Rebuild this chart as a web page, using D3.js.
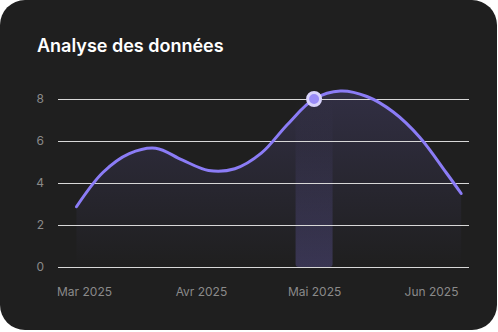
<!DOCTYPE html>
<html>
<head>
<meta charset="utf-8">
<script src="https://cdn.jsdelivr.net/npm/d3@7"></script>
<style>
  html, body { margin: 0; padding: 0; background: #ffffff; }
  svg { display: block; }
</style>
</head>
<body>
<svg id="chart" width="498" height="332"></svg>
<script>
// ---- data ----
const title = "Analyse des données";
const dates = ["2025-02-27","2025-03-06","2025-03-13","2025-03-20","2025-03-27","2025-04-03",
               "2025-04-10","2025-04-17","2025-04-24","2025-05-01","2025-05-08","2025-05-15",
               "2025-05-22","2025-05-29","2025-06-05","2025-06-09"];
const values = [2.87, 4.5, 5.4, 5.66, 5.1, 4.6,
                4.68, 5.42, 6.8, 8.0, 8.38, 8.12,
                7.38, 6.18, 4.5, 3.5];
const xTickDates = ["2025-03-01","2025-04-01","2025-05-01","2025-06-01"];
const xTickLabels = ["Mar 2025","Avr 2025","Mai 2025","Jun 2025"];
const yTicks = [0, 2, 4, 6, 8];
const highlightDate = "2025-05-01";

// ---- layout ----
const plotLeft = 58, plotRight = 469, plotTop = 99, plotBottom = 267;
const purple = "#8b7cf6";

const svg = d3.select("#chart");
const defs = svg.append("defs");

const areaGrad = defs.append("linearGradient").attr("id", "areaGrad")
  .attr("x1", 0).attr("y1", 0).attr("x2", 0).attr("y2", 1);
areaGrad.append("stop").attr("offset", "0%").attr("stop-color", purple).attr("stop-opacity", 0.17);
areaGrad.append("stop").attr("offset", "100%").attr("stop-color", purple).attr("stop-opacity", 0.0);

const barGrad = defs.append("linearGradient").attr("id", "barGrad")
  .attr("x1", 0).attr("y1", 0).attr("x2", 0).attr("y2", 1);
barGrad.append("stop").attr("offset", "0%").attr("stop-color", purple).attr("stop-opacity", 0.0);
barGrad.append("stop").attr("offset", "25%").attr("stop-color", purple).attr("stop-opacity", 0.03);
barGrad.append("stop").attr("offset", "100%").attr("stop-color", purple).attr("stop-opacity", 0.24);

// card
svg.append("rect").attr("x", 0).attr("y", 0).attr("width", 497).attr("height", 330)
  .attr("rx", 25).attr("fill", "#1f1f1f");

// title
svg.append("text").attr("x", 37).attr("y", 51.5)
  .attr("font-family", "Inter, 'Noto Sans', sans-serif")
  .attr("font-size", 18).attr("font-weight", 600).attr("fill", "#ffffff")
  .text(title);

const parse = d3.utcParse("%Y-%m-%d");
const data = dates.map((d, i) => ({ date: parse(d), value: values[i] }));

const x = d3.scaleUtc()
  .domain([parse(xTickDates[0]), parse(xTickDates[xTickDates.length - 1])])
  .range([84, 431]);
const y = d3.scaleLinear().domain([0, 8]).range([plotBottom, plotTop]);

const curve = d3.curveCatmullRom.alpha(0.5);

// area
const area = d3.area().x(d => x(d.date)).y0(y(0)).y1(d => y(d.value)).curve(curve);
svg.append("path").datum(data).attr("d", area).attr("fill", "url(#areaGrad)");

// highlight bar
const hl = data.find(d => +d.date === +parse(highlightDate));
const barW = 37;
svg.append("rect")
  .attr("x", x(hl.date) - barW / 2).attr("width", barW)
  .attr("y", y(hl.value)).attr("height", y(0) - y(hl.value))
  .attr("rx", 3).attr("fill", "url(#barGrad)");

// grid lines
svg.append("g").selectAll("line").data(yTicks).join("line")
  .attr("x1", plotLeft).attr("x2", plotRight)
  .attr("y1", d => y(d) + 0.5).attr("y2", d => y(d) + 0.5)
  .attr("stroke", "#d8d8d8").attr("stroke-width", 1);

// y axis labels
const yAxis = d3.axisLeft(y).tickValues(yTicks).tickSize(0).tickPadding(0).tickFormat(d3.format("d"));
const gy = svg.append("g").attr("transform", `translate(44,0)`).call(yAxis);
gy.select(".domain").remove();
gy.selectAll("text").attr("fill", "#8a8a8a").attr("font-size", 12)
  .attr("font-family", "Inter, 'Noto Sans', sans-serif");

// x axis labels
const xAxis = d3.axisBottom(x).tickValues(xTickDates.map(parse))
  .tickFormat((d, i) => xTickLabels[i]).tickSize(0).tickPadding(20);
const gx = svg.append("g").attr("transform", `translate(0,${plotBottom})`).call(xAxis);
gx.select(".domain").remove();
gx.selectAll("text").attr("fill", "#8a8a8a").attr("font-size", 12)
  .attr("font-family", "Inter, 'Noto Sans', sans-serif");

// line
const line = d3.line().x(d => x(d.date)).y(d => y(d.value)).curve(curve);
svg.append("path").datum(data).attr("d", line)
  .attr("fill", "none").attr("stroke", purple).attr("stroke-width", 3)
  .attr("stroke-linecap", "round").attr("stroke-linejoin", "round");

// marker
svg.append("circle").attr("cx", x(hl.date)).attr("cy", y(hl.value)).attr("r", 6.5)
  .attr("fill", "#9a8cf8").attr("stroke", "#d9d3fc").attr("stroke-width", 3);
</script>
</body>
</html>
